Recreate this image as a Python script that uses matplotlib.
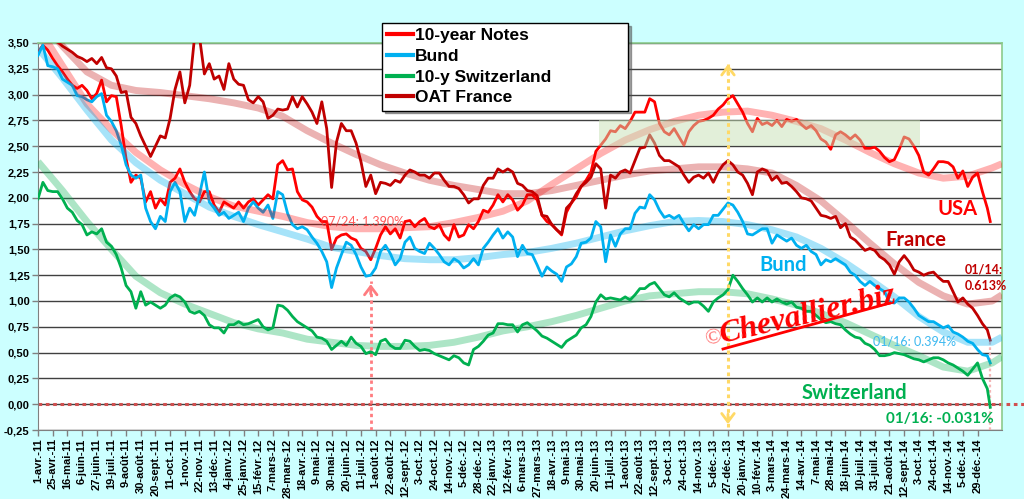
import matplotlib
matplotlib.use("Agg")
import matplotlib.pyplot as plt
from matplotlib.lines import Line2D
import numpy as np

# ---- x axis: business-day category positions, one label every 15 sessions
date_labels = [
    "1-avr.-11", "25-avr.-11", "16-mai-11", "6-juin-11", "27-juin-11", "19-juil.-11",
    "9-août-11", "30-août-11", "20-sept.-11", "11-oct.-11", "1-nov.-11", "22-nov.-11",
    "13-déc.-11", "4-janv.-12", "25-janv.-12", "15-févr.-12", "7-mars-12", "28-mars-12",
    "18-avr.-12", "9-mai-12", "30-mai-12", "20-juin-12", "11-juil.-12", "1-août-12",
    "22-août-12", "12-sept.-12", "3-oct.-12", "24-oct.-12", "14-nov.-12", "5-déc.-12",
    "28-déc.-12", "22-janv.-13", "12-févr.-13", "6-mars-13", "27-mars-13", "18-avr.-13",
    "9-mai-13", "30-mai-13", "20-juin-13", "11-juil.-13", "1-août-13", "22-août-13",
    "12-sept.-13", "3-oct.-13", "24-oct.-13", "14-nov.-13", "5-déc.-13", "27-déc.-13",
    "20-janv.-14", "10-févr.-14", "3-mars-14", "24-mars-14", "14-avr.-14", "7-mai-14",
    "28-mai-14", "18-juin-14", "10-juil.-14", "31-juil.-14", "21-août-14", "12-sept.-14",
    "3-oct.-14", "24-oct.-14", "14-nov.-14", "5-déc.-14", "29-déc.-14",
]
label_step = 15

# ---- yields (%), one reading every 5 sessions, last reading = 16 Jan 2015
sample_idx = list(range(0, 971, 5)) + [973]

us_10y = [
    3.41, 3.48, 3.43, 3.35, 3.28, 3.22, 3.15, 3.09, 3.06, 3.09,
    3.04, 2.96, 3.01, 3.14, 2.93, 2.99, 2.98, 2.70, 2.38, 2.15,
    2.22, 2.19, 1.96, 2.06, 1.90, 1.99, 1.93, 2.15, 2.19, 2.28,
    2.15, 2.06, 1.99, 1.96, 2.06, 2.06, 1.93, 1.86, 1.96, 1.93,
    1.90, 1.96, 1.90, 1.96, 1.99, 1.93, 1.98, 2.03, 1.99, 2.32,
    2.36, 2.27, 2.28, 2.06, 1.98, 1.96, 1.91, 1.82, 1.77, 1.77,
    1.50, 1.61, 1.64, 1.65, 1.61, 1.59, 1.51, 1.48, 1.40, 1.51,
    1.64, 1.72, 1.65, 1.70, 1.61, 1.77, 1.78, 1.72, 1.77, 1.80,
    1.72, 1.70, 1.74, 1.64, 1.59, 1.74, 1.62, 1.64, 1.74, 1.70,
    1.77, 1.88, 1.86, 1.93, 2.03, 1.96, 2.03, 1.98, 1.88,
    1.93, 2.03, 2.03, 1.98, 1.83, 1.77, 1.74, 1.69, 1.64, 1.86,
    1.95, 2.01, 2.11, 2.17, 2.25, 2.45, 2.51, 2.57, 2.65, 2.64,
    2.70, 2.67, 2.74, 2.83, 2.83, 2.83, 2.96, 2.93, 2.72, 2.64,
    2.61, 2.67, 2.59, 2.51, 2.64, 2.70, 2.74, 2.75, 2.77, 2.80,
    2.86, 2.90, 2.96, 2.99, 2.91, 2.83, 2.72, 2.64, 2.77,
    2.71, 2.73, 2.70, 2.75, 2.69, 2.76, 2.74, 2.76, 2.71, 2.67,
    2.70, 2.65, 2.57, 2.54, 2.47, 2.61, 2.64, 2.61, 2.57, 2.61,
    2.56, 2.48, 2.48, 2.49, 2.45, 2.39, 2.35, 2.37, 2.47, 2.59,
    2.57, 2.50, 2.41, 2.25, 2.22, 2.28, 2.35, 2.35, 2.34, 2.30,
    2.19, 2.26, 2.11, 2.20, 2.24, 2.06, 1.90, 1.77,
]

bund = [
    3.38, 3.48, 3.28, 3.27, 3.25, 3.15, 3.12, 3.09, 2.99, 2.98,
    2.95, 2.93, 2.98, 3.01, 2.80, 2.74, 2.65, 2.51, 2.32, 2.22,
    2.19, 2.22, 1.90, 1.77, 1.70, 1.82, 1.77, 2.06, 2.15, 2.06,
    1.77, 1.90, 1.83, 2.03, 2.25, 1.96, 1.90, 1.83, 1.86, 1.80,
    1.83, 1.86, 1.77, 1.90, 1.96, 1.90, 1.86, 1.93, 1.80, 2.06,
    2.03, 1.85, 1.74, 1.70, 1.72, 1.69, 1.62, 1.56, 1.48, 1.38,
    1.13, 1.32, 1.45, 1.57, 1.54, 1.45, 1.33, 1.24, 1.25, 1.32,
    1.48, 1.54, 1.46, 1.35, 1.41, 1.57, 1.62, 1.51, 1.48, 1.46,
    1.56, 1.51, 1.45, 1.38, 1.35, 1.41, 1.38, 1.32, 1.35, 1.41,
    1.35, 1.51, 1.57, 1.64, 1.70, 1.61, 1.67, 1.62, 1.43,
    1.54, 1.46, 1.45, 1.35, 1.24, 1.33, 1.29, 1.26, 1.19, 1.33,
    1.36, 1.43, 1.56, 1.57, 1.61, 1.77, 1.72, 1.38, 1.64, 1.53,
    1.65, 1.70, 1.70, 1.85, 1.91, 1.90, 2.03, 1.98, 1.88, 1.81,
    1.83, 1.80, 1.83, 1.75, 1.68, 1.74, 1.70, 1.74, 1.74, 1.83,
    1.83, 1.89, 1.95, 1.93, 1.86, 1.77, 1.65, 1.64, 1.67,
    1.70, 1.70, 1.56, 1.64, 1.61, 1.58, 1.61, 1.54, 1.51, 1.54,
    1.48, 1.45, 1.35, 1.40, 1.38, 1.41, 1.38, 1.35, 1.28, 1.25,
    1.19, 1.15, 1.19, 1.15, 1.12, 1.09, 0.99, 0.98, 1.03, 1.03,
    0.99, 0.93, 0.86, 0.83, 0.80, 0.80, 0.77, 0.74, 0.76, 0.70,
    0.68, 0.65, 0.61, 0.59, 0.53, 0.48, 0.47, 0.40,
]

swiss_10y = [
    1.99, 2.15, 2.07, 2.06, 2.06, 1.99, 1.90, 1.86, 1.78, 1.74,
    1.64, 1.67, 1.65, 1.70, 1.57, 1.53, 1.45, 1.32, 1.15, 1.09,
    0.93, 1.09, 0.96, 0.99, 0.96, 0.93, 0.96, 1.03, 1.06, 1.04,
    0.99, 0.90, 0.88, 0.90, 0.86, 0.77, 0.74, 0.74, 0.69, 0.77,
    0.77, 0.80, 0.77, 0.78, 0.80, 0.82, 0.75, 0.72, 0.74, 0.96,
    0.95, 0.91, 0.85, 0.80, 0.77, 0.74, 0.71, 0.65, 0.64, 0.61,
    0.53, 0.57, 0.61, 0.57, 0.65, 0.59, 0.56, 0.49, 0.51, 0.48,
    0.61, 0.63, 0.57, 0.54, 0.54, 0.62, 0.61, 0.56, 0.52, 0.53,
    0.52, 0.49, 0.47, 0.45, 0.43, 0.47, 0.45, 0.40, 0.38, 0.53,
    0.56, 0.61, 0.67, 0.69, 0.78, 0.78, 0.77, 0.77, 0.70,
    0.77, 0.79, 0.75, 0.71, 0.66, 0.64, 0.61, 0.58, 0.55, 0.61,
    0.64, 0.67, 0.74, 0.77, 0.85, 0.99, 1.06, 1.02, 1.03, 1.02,
    1.01, 1.04, 1.01, 1.06, 1.12, 1.12, 1.16, 1.18, 1.12, 1.06,
    1.04, 1.08, 1.03, 1.00, 0.97, 0.99, 0.99, 0.95, 0.90, 0.99,
    1.03, 1.06, 1.11, 1.25, 1.19, 1.12, 1.06, 0.99, 1.03,
    0.99, 1.03, 0.99, 1.02, 0.99, 0.97, 0.99, 0.94, 0.93, 0.90,
    0.90, 0.86, 0.82, 0.79, 0.80, 0.78, 0.77, 0.72, 0.68, 0.65,
    0.64, 0.59, 0.57, 0.53, 0.47, 0.47, 0.48, 0.50, 0.49, 0.48,
    0.46, 0.44, 0.43, 0.41, 0.43, 0.45, 0.45, 0.43, 0.40, 0.38,
    0.35, 0.32, 0.28, 0.34, 0.40, 0.25, 0.15, -0.03,
]

oat_france = [
    3.65, 3.62, 3.58, 3.54, 3.51, 3.47, 3.44, 3.41, 3.37, 3.35,
    3.32, 3.35, 3.30, 3.36, 3.26, 3.25, 3.18, 3.02, 3.03, 2.78,
    2.72, 2.60, 2.50, 2.40, 2.50, 2.60, 2.58, 2.77, 3.05, 3.22,
    2.92, 3.09, 3.56, 3.56, 3.20, 3.30, 3.15, 3.18, 3.05, 3.30,
    3.15, 3.10, 3.09, 2.95, 2.92, 2.98, 2.93, 2.77, 2.80, 2.86,
    2.85, 2.86, 2.98, 2.88, 2.98, 2.91, 2.83, 2.72, 2.93, 2.67,
    2.10, 2.54, 2.72, 2.65, 2.65, 2.53, 2.35, 2.11, 2.22, 2.04,
    2.15, 2.14, 2.12, 2.17, 2.15, 2.22, 2.27, 2.25, 2.22, 2.22,
    2.19, 2.24, 2.24, 2.17, 2.11, 2.11, 2.09, 2.03, 1.95, 1.99,
    1.99, 2.12, 2.19, 2.19, 2.28, 2.25, 2.28, 2.25, 2.14,
    2.12, 2.07, 2.06, 2.02, 1.83, 1.82, 1.74, 1.69, 1.65, 1.90,
    1.95, 2.04, 2.11, 2.15, 2.20, 2.33, 2.28, 1.90, 2.22, 2.19,
    2.25, 2.27, 2.24, 2.36, 2.48, 2.49, 2.61, 2.53, 2.41, 2.36,
    2.36, 2.33, 2.30, 2.22, 2.15, 2.20, 2.22, 2.19, 2.24, 2.15,
    2.25, 2.32, 2.36, 2.32, 2.25, 2.22, 2.14, 2.03, 2.25,
    2.28, 2.26, 2.17, 2.21, 2.14, 2.15, 2.11, 2.06, 2.00, 1.99,
    1.97, 1.90, 1.83, 1.82, 1.80, 1.82, 1.71, 1.75, 1.62, 1.59,
    1.54, 1.49, 1.51, 1.49, 1.43, 1.40, 1.35, 1.26, 1.38, 1.44,
    1.38, 1.30, 1.28, 1.25, 1.27, 1.28, 1.23, 1.19, 1.19, 1.09,
    0.99, 1.03, 0.97, 0.93, 0.86, 0.78, 0.72, 0.62,
]

# ---- polynomial trend curves, read every 25 sessions
trend_idx = list(range(0, 976, 25)) + [985]
us_trend = [
    3.65, 3.28, 2.91, 2.66, 2.44, 2.27, 2.13, 2.01, 1.92, 1.87,
    1.82, 1.76, 1.72, 1.70, 1.70, 1.71, 1.72, 1.76, 1.81, 1.87,
    1.97, 2.13, 2.28, 2.43, 2.56, 2.66, 2.74, 2.80, 2.83, 2.84,
    2.80, 2.74, 2.67, 2.56, 2.44, 2.33, 2.24, 2.19, 2.21, 2.29, 2.33,
]
bund_trend = [
    3.45, 3.16, 2.85, 2.56, 2.34, 2.17, 2.04, 1.91, 1.82, 1.74,
    1.67, 1.60, 1.52, 1.48, 1.44, 1.41, 1.40, 1.40, 1.42, 1.45,
    1.47, 1.51, 1.56, 1.62, 1.68, 1.73, 1.77, 1.78, 1.77, 1.74,
    1.69, 1.62, 1.51, 1.37, 1.21, 1.04, 0.85, 0.70, 0.60, 0.60, 0.65,
]
swiss_trend = [
    2.35, 2.07, 1.77, 1.50, 1.24, 1.08, 0.97, 0.88, 0.79, 0.73,
    0.69, 0.63, 0.60, 0.57, 0.56, 0.56, 0.57, 0.60, 0.65, 0.71,
    0.75, 0.80, 0.86, 0.93, 1.00, 1.05, 1.07, 1.09, 1.09, 1.07,
    1.02, 0.96, 0.88, 0.79, 0.68, 0.57, 0.47, 0.36, 0.32, 0.40, 0.46,
]
oat_trend = [
    3.75, 3.47, 3.22, 3.09, 3.04, 3.02, 2.99, 2.96, 2.92, 2.87,
    2.79, 2.65, 2.53, 2.42, 2.32, 2.24, 2.17, 2.12, 2.08, 2.04,
    2.04, 2.07, 2.12, 2.17, 2.22, 2.26, 2.28, 2.30, 2.30, 2.28,
    2.24, 2.12, 1.97, 1.77, 1.56, 1.36, 1.18, 1.05, 0.97, 1.00, 1.06,
]

series_names = ["10-year Notes", "Bund", "10-y Switzerland", "OAT France"]
series_colors = ["#FF0000", "#00B0F0", "#00B050", "#C00000"]

# notable points
low_idx, low_value, low_date = 340, 1.19, "07/24: 1.390%"
peak_idx, peak_top = 705, 3.32
end_idx = sample_idx[-1]
band_start, band_end, band_low, band_high = 573, 901, 2.50, 2.75

TXT = "Lato"
AX = "Liberation Sans"

fig = plt.figure(figsize=(10.24, 4.99), dpi=100, facecolor="#CCFFFF")
ax = fig.add_axes([38 / 1024, 1 - 430 / 499, 964 / 1024, 387 / 499])
ax.set_facecolor("white")
ax.set_xlim(0, 985)
ax.set_ylim(-0.25, 3.5)

yticks = np.arange(-0.25, 3.51, 0.25)
ax.set_yticks(yticks)
ax.set_yticklabels([f"{v:.2f}".replace(".", ",") for v in yticks],
                   fontsize=8, fontweight="bold", family=AX)
ax.set_xticks([k * label_step for k in range(len(date_labels))])
ax.set_xticklabels(date_labels, rotation=90, fontsize=8, fontweight="bold",
                   family=AX)
ax.tick_params(axis="both", direction="out", length=4, width=1, color="#808080", pad=2)
ax.yaxis.grid(True, color="#404040", lw=1)
ax.set_axisbelow(True)
for side in ["left", "bottom"]:
    ax.spines[side].set_color("#808080")
for side in ["top", "right"]:
    ax.spines[side].set_color("#8CCB8C")
    ax.spines[side].set_linewidth(1.2)

# zero line, runs past the plot edge
ax.plot([0, 1060], [0, 0], color="#D05050", lw=2.2, ls=(0, (1.2, 1.2)),
        clip_on=False, zorder=2)

handles = []
for vals, name, col in zip([us_10y, bund, swiss_10y, oat_france], series_names,
                           series_colors):
    h, = ax.plot(sample_idx, vals, color=col, lw=2.0, label=name, zorder=3,
                 solid_joinstyle="round")
    handles.append(h)

for vals, col, a in zip([us_trend, bund_trend, swiss_trend, oat_trend],
                        series_colors, [0.3, 0.35, 0.32, 0.3]):
    ax.plot(trend_idx, vals, color=col, lw=5, alpha=a, zorder=4,
            solid_capstyle="butt")

# shaded range
ax.fill_between([band_start, band_end], band_low, band_high, color="#C6E0B4",
                alpha=0.5, lw=0, zorder=5)

# vertical markers
arrow = "->,head_width=0.45,head_length=0.6"
ax.plot([low_idx, low_idx], [-0.25, low_value], color="#FF7C80", lw=2,
        ls=(0, (1.2, 1.2)), zorder=6)
ax.annotate("", xy=(low_idx, low_value), xytext=(low_idx, low_value - 0.15),
            arrowprops=dict(arrowstyle=arrow, color="#FF7C80", lw=2), zorder=6)
ax.plot([peak_idx, peak_idx], [-0.22, peak_top], color="#FFD966", lw=2.2,
        ls=(0, (1.2, 1.2)), zorder=6)
ax.annotate("", xy=(peak_idx, peak_top), xytext=(peak_idx, peak_top - 0.15),
            arrowprops=dict(arrowstyle=arrow, color="#FFD966", lw=2), zorder=6)
ax.annotate("", xy=(peak_idx, -0.22), xytext=(peak_idx, -0.07),
            arrowprops=dict(arrowstyle=arrow, color="#FFD966", lw=2), zorder=6)
ax.plot([end_idx, end_idx], [-0.25, oat_france[-1]], color="#F4B6B6", lw=1.6,
        ls=(0, (1.2, 1.2)), zorder=2)

# annotations
ax.text(332, 1.77, low_date, color="#FF3030", alpha=0.8, fontsize=9,
        family=TXT, ha="center", va="center", zorder=7)
ax.text(940, 1.89, "USA", color="#FF0000", fontsize=14.5, fontweight="bold",
        family=TXT, ha="center", va="center", zorder=7)
ax.text(897, 1.59, "France", color="#C00000", fontsize=14.5, fontweight="bold",
        family=TXT, ha="center", va="center", zorder=7)
ax.text(761, 1.35, "Bund", color="#00B0F0", fontsize=14.5, fontweight="bold",
        family=TXT, ha="center", va="center", zorder=7)
ax.text(834, 0.11, "Switzerland", color="#00B050", fontsize=14.5,
        fontweight="bold", family=TXT, ha="center", va="center", zorder=7)
ax.text(947, 1.31, "01/14:", color="#C00000", fontsize=9, fontweight="bold",
        family=TXT, ha="left", va="center", zorder=7)
ax.text(947, 1.15, "0.613%", color="#C00000", fontsize=9, fontweight="bold",
        family=TXT, ha="left", va="center", zorder=7, clip_on=False)
ax.text(896, 0.61, "01/16: 0.394%", color="#3CB8F0", fontsize=9, family=TXT,
        ha="center", va="center", zorder=7)
ax.text(922, -0.14, "01/16: -0.031%", color="#00B050", fontsize=11,
        fontweight="bold", family=TXT, ha="center", va="center", zorder=7)

# watermark
ax.text(789, 0.79, "Chevallier.biz", color="#FF0000", fontsize=23,
        family="Liberation Serif", style="italic", fontweight="bold",
        rotation=13, rotation_mode="anchor", ha="center", va="baseline", zorder=7)
ax.text(691, 0.63, "©", color="#FF7070", fontsize=16, family="Liberation Serif",
        rotation=13, ha="center", va="center", zorder=7)
fig.add_artist(Line2D([723 / 1024, 890 / 1024], [1 - 349 / 499, 1 - 303 / 499],
                      color="#FF0000", lw=2))

leg = ax.legend(handles=handles, loc="upper left",
                bbox_to_anchor=(382 / 1024, 1 - 109 / 499, 246 / 1024, 86 / 499),
                bbox_transform=fig.transFigure, mode="expand", frameon=True,
                fancybox=False, shadow=True, edgecolor="black", framealpha=1,
                prop=dict(family=AX, weight="bold", size=12.5),
                handlelength=1.5, handletextpad=0.1, labelspacing=0.32,
                borderpad=0.3, borderaxespad=0)
leg.set_zorder(10)
for line in leg.get_lines():
    line.set_linewidth(3)

fig.savefig("out.png", dpi=100, facecolor=fig.get_facecolor())
